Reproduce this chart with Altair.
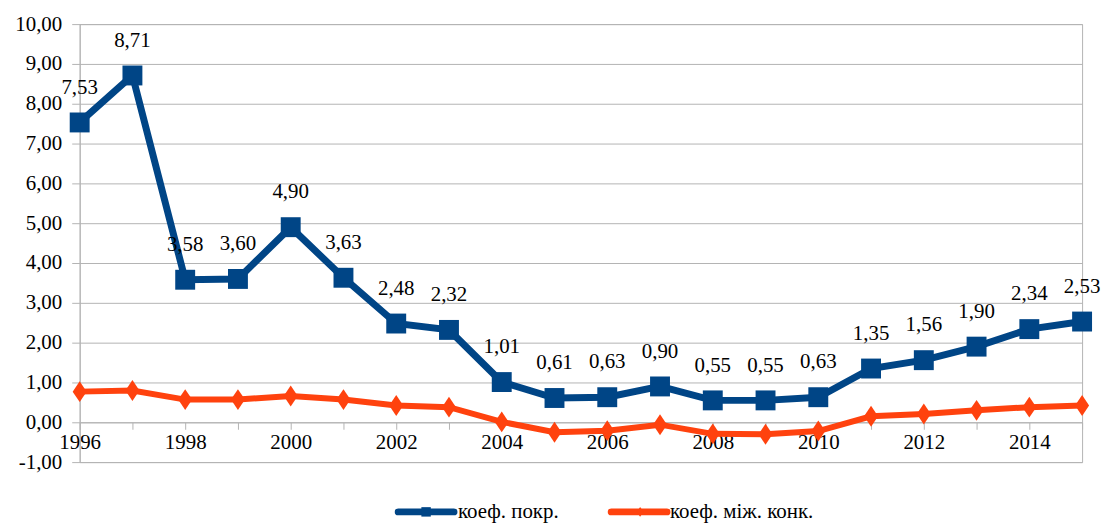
import altair as alt
import pandas as pd

years = list(range(1996, 2016))
pokr = [7.53, 8.71, 3.58, 3.60, 4.90, 3.63, 2.48, 2.32, 1.01, 0.61,
        0.63, 0.90, 0.55, 0.55, 0.63, 1.35, 1.56, 1.90, 2.34, 2.53]
konk = [0.77, 0.80, 0.57, 0.57, 0.66, 0.57, 0.42, 0.38, 0.01, -0.25,
        -0.21, -0.06, -0.29, -0.30, -0.22, 0.15, 0.21, 0.30, 0.38, 0.42]
series_names = ["коеф. покр.", "коеф. між. конк."]
series_colors = ["#004586", "#ff420e"]

FONT = "Times New Roman"
GRID = "#b3b3b3"

df = pd.DataFrame({
    "year": years * 2,
    "value": pokr + konk,
    "series": [series_names[0]] * len(years) + [series_names[1]] * len(years),
})
df_p = df[df.series == series_names[0]].copy()
df_p["label"] = [f"{v:.2f}".replace(".", ",") for v in pokr]
df_k = df[df.series == series_names[1]].copy()

x = alt.X("year:Q", scale=alt.Scale(domain=[1996, 2015], nice=False, zero=False),
          axis=alt.Axis(values=years, labelExpr="datum.value % 2 == 0 ? datum.value : ''",
                        offset=-40, grid=False, tickSize=7, tickColor=GRID,
                        domainColor=GRID, labelFont=FONT, labelFontSize=21,
                        labelColor="black", labelPadding=2, title=None,
                        labelFlush=False, labelOverlap=False))
y = alt.Y("value:Q", scale=alt.Scale(domain=[-1, 10], nice=False, zero=False),
          axis=alt.Axis(values=list(range(-1, 11)),
                        labelExpr="(datum.value < 0 ? '-' : '') + replace(format(abs(datum.value), '.2f'), '.', ',')",
                        grid=True, gridColor=GRID, tickSize=8, tickColor=GRID,
                        domainColor=GRID, labelFont=FONT, labelFontSize=21,
                        labelColor="black", labelPadding=10, title=None))

color = alt.Color("series:N", scale=alt.Scale(domain=series_names, range=series_colors), legend=None)

shape_sq = "M-1,-1H1V1H-1Z"
shape_dm = "M0,-1L0.67,0L0,1L-0.67,0Z"

line_p = alt.Chart(df_p).mark_line(strokeWidth=7, strokeJoin="miter").encode(x=x, y=y, color=color)
line_k = alt.Chart(df_k).mark_line(strokeWidth=6).encode(x=x, y=y, color=color)
pts_p = alt.Chart(df_p).mark_point(filled=True, opacity=1, shape=shape_sq, size=400).encode(x=x, y=y, color=color)
pts_k = alt.Chart(df_k).mark_point(filled=True, opacity=1, shape=shape_dm, size=441).encode(x=x, y=y, color=color)
labels = alt.Chart(df_p).mark_text(font=FONT, fontSize=21, dy=-35, baseline="middle", color="black").encode(
    x=x, y=y, text="label:N")

# legend
leg = pd.DataFrame({"series": series_names})
leg_lines = [
    alt.Chart(leg.iloc[[0]]).mark_rule(strokeWidth=7, strokeCap="round", color=series_colors[0]).encode(
        x=alt.value(320), x2=alt.value(376), y=alt.value(490)),
    alt.Chart(leg.iloc[[1]]).mark_rule(strokeWidth=7, strokeCap="round", color=series_colors[1]).encode(
        x=alt.value(534), x2=alt.value(590), y=alt.value(490)),
    alt.Chart(leg.iloc[[0]]).mark_point(filled=True, opacity=1, shape=shape_sq, size=90, color=series_colors[0]).encode(
        x=alt.value(348), y=alt.value(490)),
    alt.Chart(leg.iloc[[1]]).mark_point(filled=True, opacity=1, shape=shape_dm, size=100, color=series_colors[1]).encode(
        x=alt.value(563), y=alt.value(490)),
    alt.Chart(leg.iloc[[0]]).mark_text(font=FONT, fontSize=21, align="left", baseline="middle", color="black").encode(
        x=alt.value(380), y=alt.value(490), text="series:N"),
    alt.Chart(leg.iloc[[1]]).mark_text(font=FONT, fontSize=21, align="left", baseline="middle", color="black").encode(
        x=alt.value(593), y=alt.value(490), text="series:N"),
]

chart = alt.layer(line_k, pts_k, line_p, pts_p, labels, *leg_lines).properties(
    width=1007, height=440,
    autosize=alt.AutoSizeParams(type="none"),
    padding={"left": 72, "top": 15, "right": 19, "bottom": 62},
    background="white",
).configure_view(stroke=GRID)

chart.save("out.html", embed_options={"renderer": "svg", "actions": False})
